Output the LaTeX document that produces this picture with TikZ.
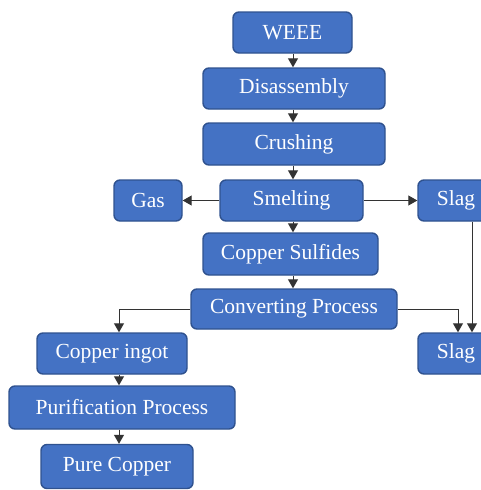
\documentclass[tikz,border=0pt]{standalone}
\usepackage{fontspec}
\setmainfont{Liberation Serif}
\usetikzlibrary{arrows.meta}
\definecolor{boxfill}{HTML}{4472C4}
\definecolor{boxline}{HTML}{2F528F}
\tikzset{
  pbox/.style={draw=boxline, line width=1.4pt, fill=boxfill, rounded corners=6pt,
    text=white, font=\fontsize{21.5}{23}\selectfont, inner sep=0pt, anchor=center},
  conn/.style={draw=black!80, line width=1pt, -{Triangle[width=10pt,length=9pt]}},
}
\begin{document}
\begin{tikzpicture}[x=1pt,y=-1pt]
\useasboundingbox (0,0) rectangle (481,490);
\clip (0,0) rectangle (481,490);
\node[pbox, minimum width=119pt, minimum height=41pt] (weee) at (292.5,32.5) {WEEE};
\node[pbox, minimum width=182pt, minimum height=41pt] (dis) at (294,88.5) {Disassembly};
\node[pbox, minimum width=182pt, minimum height=42pt] (crush) at (294,144) {Crushing};
\node[pbox, minimum width=143pt, minimum height=41pt] (smelt) at (291.5,200.5) {Smelting};
\node[pbox, minimum width=68pt, minimum height=41pt] (gas) at (148,200.5) {Gas};
\node[pbox, minimum width=76pt, minimum height=41pt] (slagA) at (456,200.5) {Slag};
\node[pbox, minimum width=175pt, minimum height=42pt] (sulf) at (290.5,254) {Copper Sulfides};
\node[pbox, minimum width=206pt, minimum height=40pt] (conv) at (294,309) {Converting Process};
\node[pbox, minimum width=150pt, minimum height=41pt] (ingot) at (112,353.5) {Copper ingot};
\node[pbox, minimum width=76pt, minimum height=41pt] (slagB) at (456,353.5) {Slag};
\node[pbox, minimum width=226pt, minimum height=43pt] (purif) at (122,407.5) {Purification Process};
\node[pbox, minimum width=152pt, minimum height=44pt] (pure) at (117,466.5) {Pure Copper};

\draw[conn] ([xshift=0.5pt]weee.south) -- ([xshift=0.5pt]weee.south |- dis.north);
\draw[conn] ([xshift=-1pt]dis.south) -- ([xshift=-1pt]dis.south |- crush.north);
\draw[conn] ([xshift=-1pt]crush.south) -- ([xshift=-1pt]crush.south |- smelt.north);
\draw[conn] ([xshift=1.5pt]smelt.south) -- ([xshift=1.5pt]smelt.south |- sulf.north);
\draw[conn] ([xshift=2.5pt]sulf.south) -- ([xshift=2.5pt]sulf.south |- conv.north);
\draw[conn] (smelt.west) -- (gas.east);
\draw[conn] (smelt.east) -- (slagA.west);
\draw[conn] ([xshift=16pt]slagA.south) -- ([xshift=16pt]slagB.north);
\draw[conn] (conv.west) -| ([xshift=7pt]ingot.north);
\draw[conn] (conv.east) -| ([xshift=2pt]slagB.north);
\draw[conn] ([xshift=7pt]ingot.south) -- ([xshift=7pt]ingot.south |- purif.north);
\draw[conn] ([xshift=-3pt]purif.south) -- ([xshift=-3pt]purif.south |- pure.north);
\end{tikzpicture}
\end{document}
